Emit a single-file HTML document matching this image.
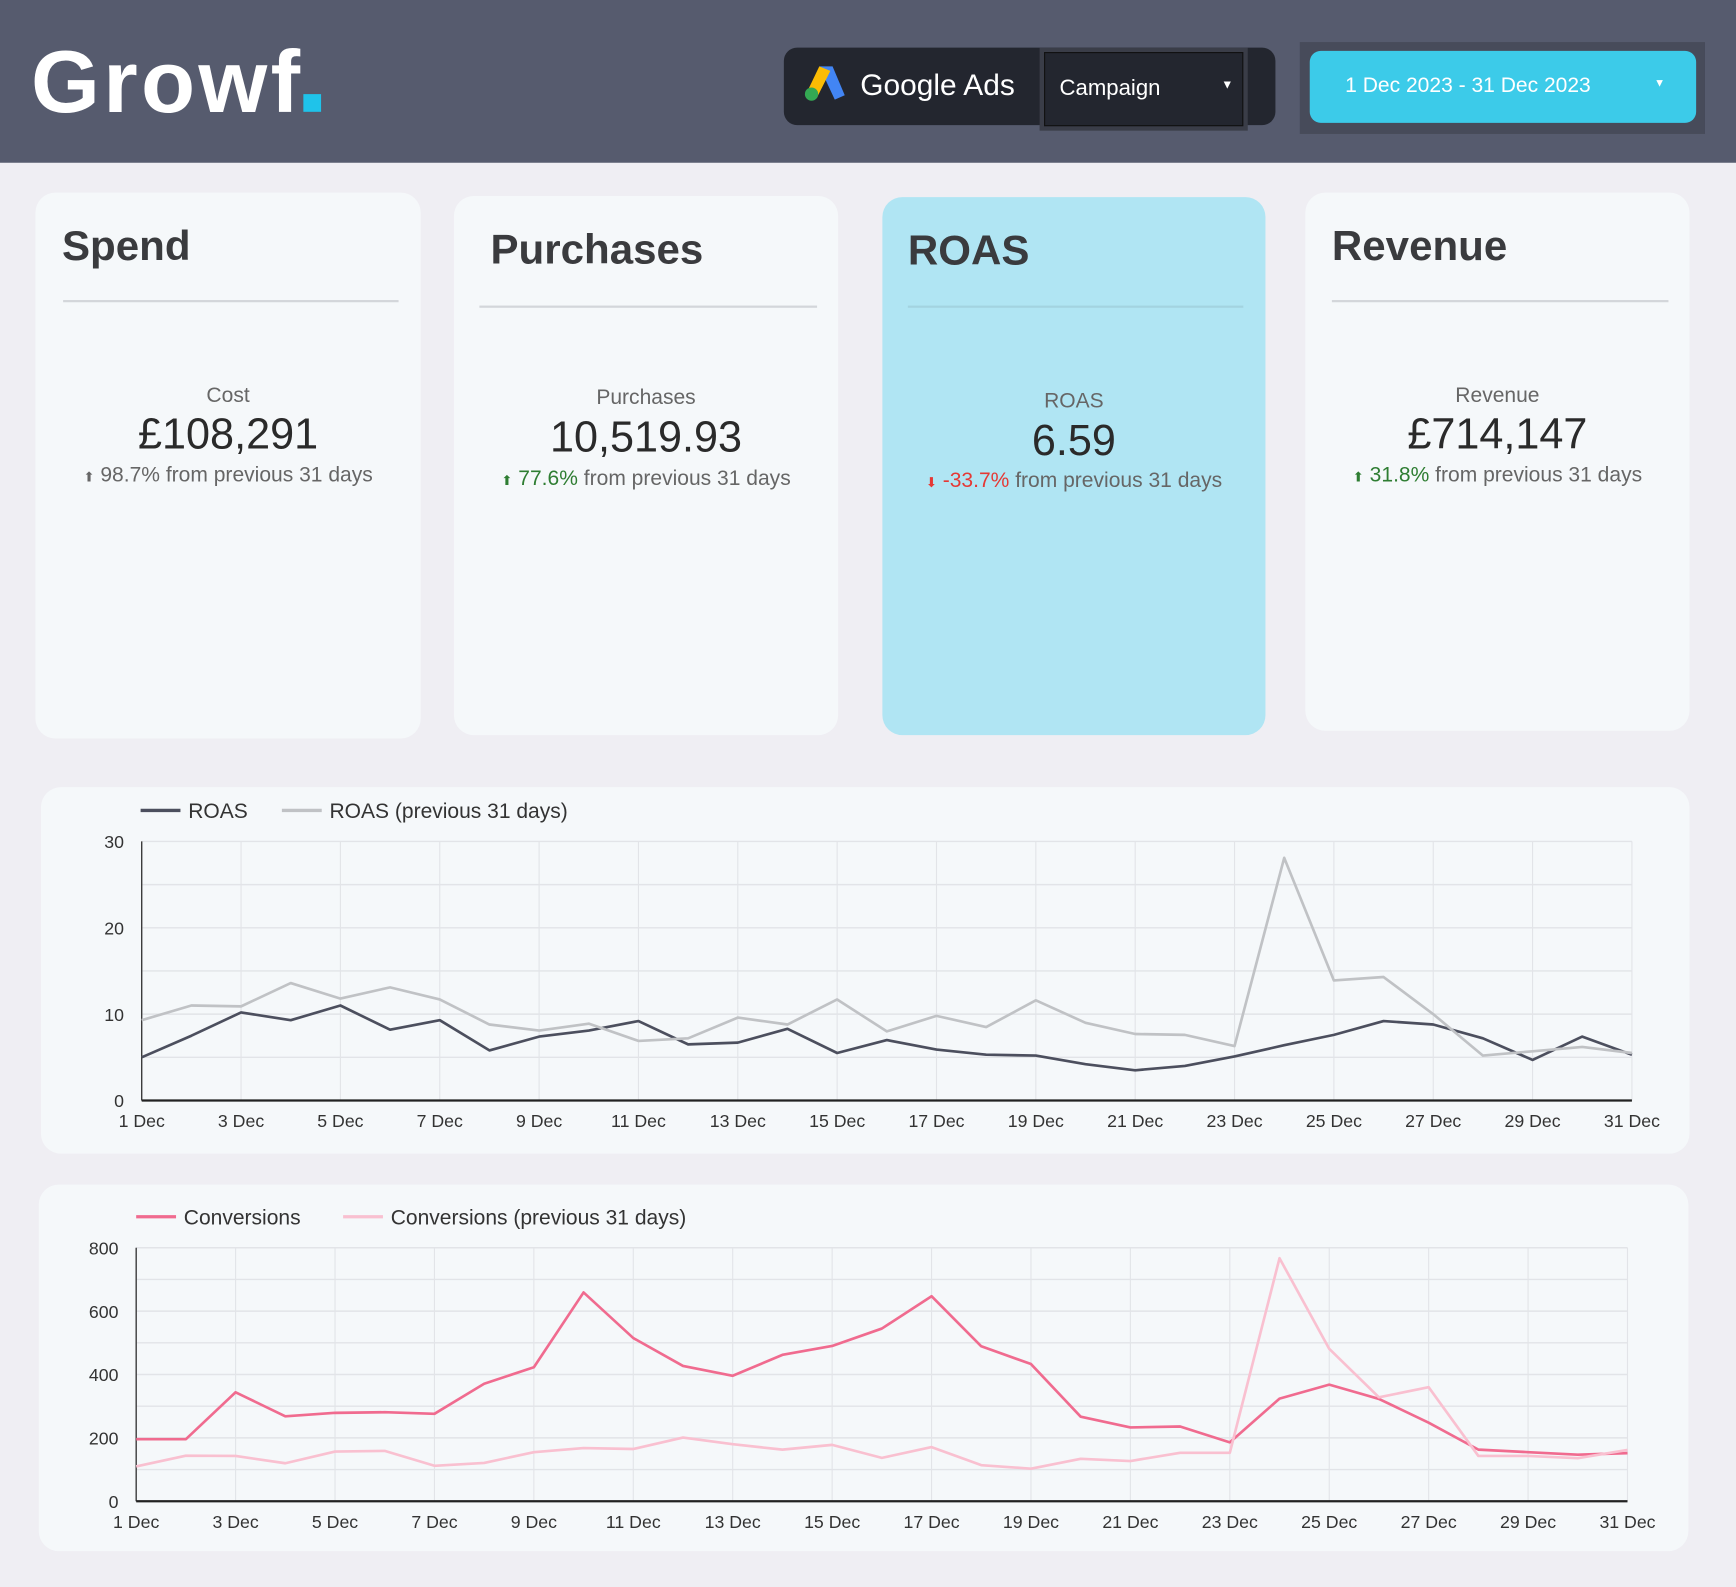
<!DOCTYPE html>
<html><head><meta charset="utf-8">
<style>
html,body{margin:0;padding:0;width:1736px;height:1586px;overflow:hidden;background:#efeef3;font-family:"Liberation Sans",sans-serif;}
#root{position:absolute;left:0;top:0;width:1568px;height:1433px;transform:scale(1.10714);transform-origin:0 0;}
.abs{position:absolute;}
.card{position:absolute;background:#f5f8fa;border-radius:18px;}
.title{position:absolute;font-weight:bold;font-size:38px;color:#3a3b3e;}
.div{position:absolute;height:2px;background:#d3d6da;}
.lab{position:absolute;left:0;right:0;text-align:center;font-size:19px;color:#666;}
.val{position:absolute;left:0;right:0;text-align:center;font-size:39px;color:#2a2a2a;font-weight:300;}
.chg{position:absolute;left:0;right:0;text-align:center;font-size:19px;color:#666;white-space:nowrap;}
.g{color:#2e7d32}.r{color:#e53935}
</style></head><body>
<div id="root">
<div class="abs" style="left:0;top:0;width:1568px;height:147px;background:#565b6e;"></div>
<div class="abs" style="left:28px;top:28px;font-size:80px;font-weight:bold;color:#fff;letter-spacing:3px;">Growf<span style="display:inline-block;width:16px;height:16px;background:#1fc3ea;margin-left:0px;"></span></div>
<div class="abs" style="left:708px;top:43px;width:444px;height:70px;background:#23262f;border-radius:12px;"></div>
<svg class="abs" style="left:726px;top:58px" width="38" height="34" viewBox="0 0 38 34"><path d="M14 2 L26 2 L37 28 L28 32 Z" fill="#4285f4"/><path d="M14 2 L24 6 L12 30 L3 25 Z" fill="#fbbc04"/><circle cx="7" cy="27" r="6" fill="#34a853"/></svg>
<div class="abs" style="left:777px;top:62px;font-size:27px;color:#fff;">Google Ads</div>
<div class="abs" style="left:943px;top:47px;width:178px;height:65px;background:#23262f;border:1px solid #111;box-shadow:0 0 0 4px #3a3d48;"><span style="position:absolute;left:13px;top:21px;font-size:20px;color:#fff;">Campaign</span><span style="position:absolute;right:8px;top:23px;font-size:11px;color:#fff;">▼</span></div>
<div class="abs" style="left:1174px;top:38px;width:366px;height:83px;background:#474b5a;"></div>
<div class="abs" style="left:1183px;top:46px;width:349px;height:65px;background:#3ccbe9;border-radius:10px;"><span style="position:absolute;left:32px;top:21px;font-size:19px;color:#fff;">1 Dec 2023 - 31 Dec 2023</span><span style="position:absolute;right:28px;top:24px;font-size:10px;color:#fff;">▼</span></div>

<div class="card" style="left:32px;top:174px;width:348px;height:493px;">
<div class="title" style="left:24px;top:28px;">Spend</div>
<div class="div" style="left:25px;top:97px;width:303px;"></div>
<div class="lab" style="top:173px;">Cost</div>
<div class="val" style="top:197px;">£108,291</div>
<div class="chg" style="top:245px;"><span style="font-size:12px">⬆</span> 98.7% from previous 31 days</div>
</div>
<div class="card" style="left:410px;top:177px;width:347px;height:487px;">
<div class="title" style="left:33px;top:28px;">Purchases</div>
<div class="div" style="left:23px;top:99px;width:305px;"></div>
<div class="lab" style="top:172px;">Purchases</div>
<div class="val" style="top:197px;">10,519.93</div>
<div class="chg" style="top:245px;"><span class="g" style="font-size:12px">⬆</span> <span class="g">77.6%</span> from previous 31 days</div>
</div>
<div class="card" style="left:797px;top:178px;width:346px;height:486px;background:#b0e5f3;">
<div class="title" style="left:23px;top:28px;">ROAS</div>
<div class="div" style="left:23px;top:98px;width:303px;background:#a3d3e0;"></div>
<div class="lab" style="top:174px;">ROAS</div>
<div class="val" style="top:199px;">6.59</div>
<div class="chg" style="top:246px;"><span class="r" style="font-size:12px">⬇</span> <span class="r">-33.7%</span> from previous 31 days</div>
</div>
<div class="card" style="left:1179px;top:174px;width:347px;height:486px;">
<div class="title" style="left:24px;top:28px;">Revenue</div>
<div class="div" style="left:24px;top:97px;width:304px;"></div>
<div class="lab" style="top:173px;">Revenue</div>
<div class="val" style="top:197px;">£714,147</div>
<div class="chg" style="top:245px;"><span class="g" style="font-size:12px">⬆</span> <span class="g">31.8%</span> from previous 31 days</div>
</div>

<div class="card" style="left:37px;top:711px;width:1489px;height:331px;"></div>
<div class="card" style="left:35px;top:1070px;width:1490px;height:331px;"></div>
<svg id="charts" class="abs" style="left:0;top:0" width="1568" height="1433"></svg>
</div>
<script>
const days = Array.from({length:31},(_,i)=>(i+1)+' Dec');
const roas = [5.0,7.5,10.2,9.3,11.0,8.2,9.3,5.8,7.4,8.1,9.2,6.5,6.7,8.3,5.5,7.0,5.9,5.3,5.2,4.2,3.5,4.0,5.1,6.4,7.6,9.2,8.8,7.2,4.7,7.4,5.3];
const roasPrev = [9.3,11.0,10.9,13.6,11.8,13.1,11.7,8.8,8.1,8.9,6.9,7.2,9.6,8.8,11.7,8.0,9.8,8.5,11.6,9.0,7.7,7.6,6.3,28.1,13.9,14.3,10.0,5.2,5.7,6.2,5.5];
const roasTicks = [0,10,20,30];
const conv = [196,196,344,268,279,281,276,371,423,659,515,427,396,462,490,545,647,489,433,267,233,236,186,324,368,323,248,163,155,147,152];
const convPrev = [110,144,143,120,157,159,112,121,155,168,165,201,180,163,178,137,171,114,103,134,127,153,153,767,481,328,360,143,143,136,162];
const convTicks = [0,200,400,600,800];

const NS='http://www.w3.org/2000/svg';
const svg=document.getElementById('charts');
function mk(tag,attrs,parent){const e=document.createElementNS(NS,tag);for(const k in attrs)e.setAttribute(k,attrs[k]);(parent||svg).appendChild(e);return e;}
function chart(o){
  const g=mk('g',{});
  
  
  const x=i=>o.x0+(o.x1-o.x0)*i/(days.length-1);
  const y=v=>o.y1-(o.y1-o.y0)*v/o.max;
  for(let v=0;v<=o.max;v+=o.minor){mk('line',{x1:o.x0,x2:o.x1,y1:y(v),y2:y(v),stroke:'#e2e4e8','stroke-width':1.3},g);}
  for(let i=0;i<days.length;i+=2){mk('line',{x1:x(i),x2:x(i),y1:o.y0,y2:o.y1,stroke:'#e2e4e8','stroke-width':1},g);
    const t=mk('text',{x:x(i),y:o.y1+24,'text-anchor':'middle','font-size':16,fill:'#333','font-family':'Liberation Sans, sans-serif'},g);t.textContent=days[i];
    }
  o.ticks.forEach(v=>{const t=mk('text',{x:o.x0-16,y:y(v)+6,'text-anchor':'end','font-size':16,fill:'#333','font-family':'Liberation Sans, sans-serif'},g);t.textContent=v;
    });
  mk('line',{x1:o.x0,x2:o.x0,y1:o.y0,y2:o.y1,stroke:'#333','stroke-width':1.2},g);
  mk('line',{x1:o.x0,x2:o.x1,y1:o.y1,y2:o.y1,stroke:'#222','stroke-width':2},g);
  o.series.forEach(s=>{
    const p=mk('polyline',{points:s.data.map((v,i)=>x(i)+','+y(v)).join(' '),fill:'none',stroke:s.color,'stroke-width':s.w,'stroke-linejoin':'round'},g);
    
  });
  let lx=o.legX;
  o.series.forEach(s=>{
    const le=mk('g',{},g);
    
    mk('line',{x1:lx,x2:lx+36,y1:o.legY,y2:o.legY,stroke:s.color,'stroke-width':3},le);
    const t=mk('text',{x:lx+43,y:o.legY+7,'font-size':19,fill:'#333','font-family':'Liberation Sans, sans-serif'},le);t.textContent=s.label;
    lx+=43+s.label.length*9.9+o.gap;
  });
}
chart({name:'roas-chart',x0:128,x1:1474,y0:760,y1:994,max:30,minor:5,ticks:roasTicks,legX:127,legY:732,gap:45,
  series:[{id:'roas-line',label:'ROAS',data:roas,color:'#4c4f5e',w:2.4},{id:'roas-prev-line',label:'ROAS (previous 31 days)',data:roasPrev,color:'#c0c2c5',w:2.4}]});
chart({name:'conversions-chart',x0:123,x1:1470,y0:1127,y1:1356,max:800,minor:100,ticks:convTicks,legX:123,legY:1099,gap:35,
  series:[{id:'conversions-line',label:'Conversions',data:conv,color:'#f06b8f',w:2.4},{id:'conversions-prev-line',label:'Conversions (previous 31 days)',data:convPrev,color:'#f9c0d0',w:2.4}]});
</script>
</body></html>
